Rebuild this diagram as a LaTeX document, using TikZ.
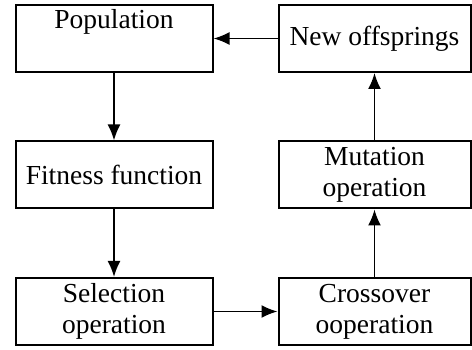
\documentclass[tikz,border=0pt]{standalone}
\usepackage{fontspec}
\setmainfont{Liberation Serif}
\usetikzlibrary{arrows.meta}

\begin{document}
\begin{tikzpicture}
[x=1pt,y=1pt,%
    boxLeftDecorate/.style={shape=rectangle,draw=black,line width=2pt,minimum width=197pt,minimum height=67pt,inner sep=0pt,align=center,font=\fontsize{27.5}{31}\selectfont},%
    boxRightDecorate/.style={boxLeftDecorate,minimum width=192pt},%
    lineDecorate/.style={black,line width=1.8pt,-{Latex[length=16pt,width=13pt]}}]
    \useasboundingbox (0,0) rectangle (472,350);
    %% left column
    \node (population) at (114,311.5) [boxLeftDecorate,label={[anchor=north,inner sep=5pt,font=\fontsize{27.5}{31}\selectfont]north:Population}] {};
    \foreach \nodename/\x/\y/\txt in {fitness/114/175/Fitness function, selection/114/38.5/{Selection\\operation}}
    {
        \node (\nodename) at (\x,\y) [boxLeftDecorate] {\txt};
    }
    %% right column
    \foreach \nodename/\x/\y/\txt in {offsprings/374.5/311.5/New offsprings, mutation/374.5/175/{Mutation\\operation}, crossover/374.5/38.5/{Crossover\\ooperation}}
    {
        \node (\nodename) at (\x,\y) [boxRightDecorate] {\txt};
    }
    %% edges or lines
    \path\foreach \startnode/\endnode in {population/fitness, fitness/selection, selection/crossover, crossover/mutation, mutation/offsprings, offsprings/population}
    {
        (\startnode) edge[lineDecorate] (\endnode)
    };
\end{tikzpicture}
\end{document}
